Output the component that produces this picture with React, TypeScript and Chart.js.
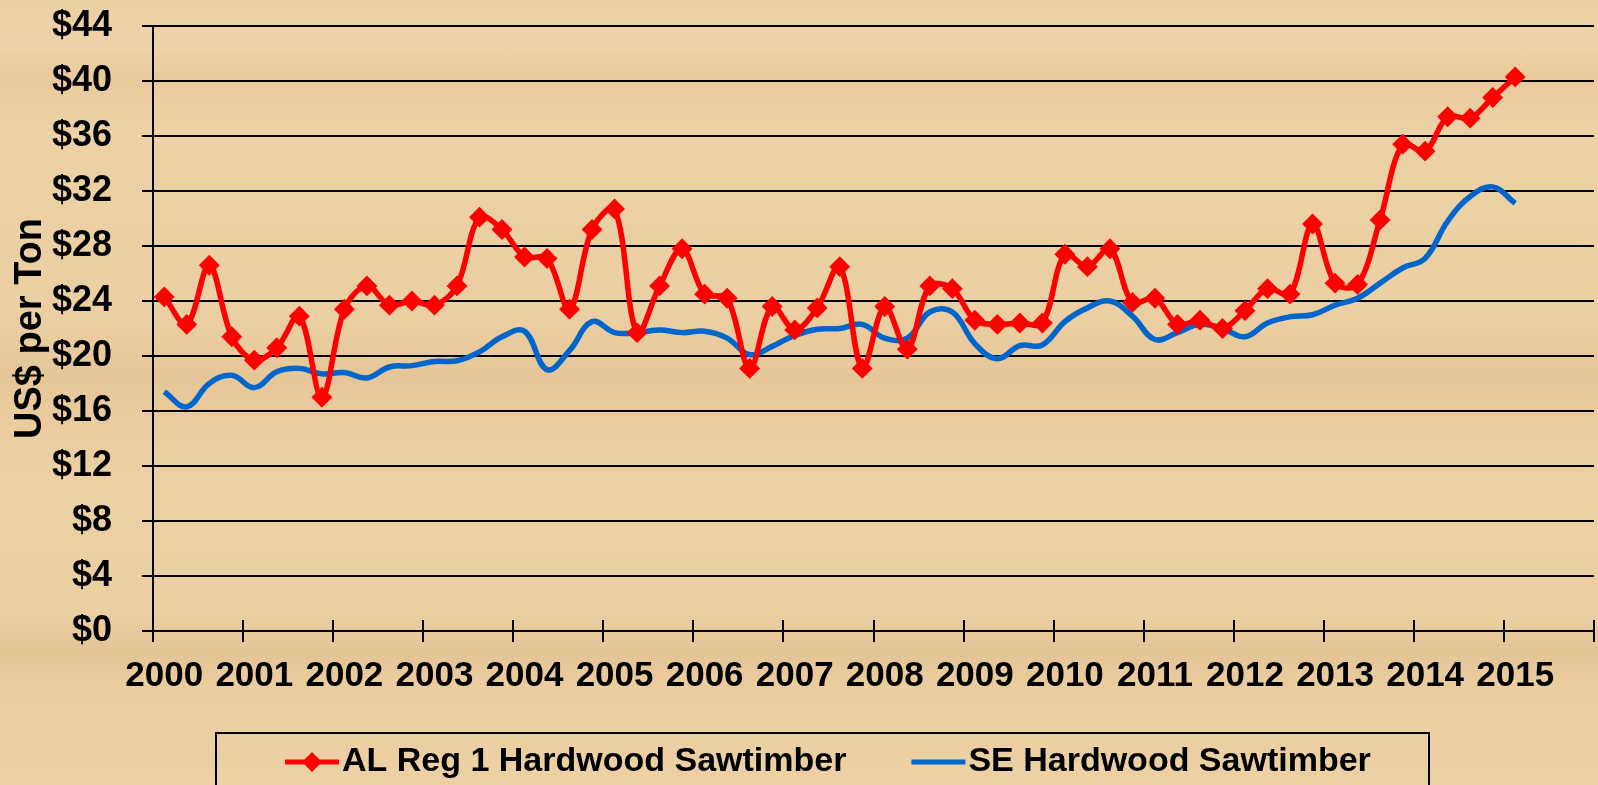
import React, { useEffect, useRef } from 'react';
import { Chart, registerables } from 'chart.js';

Chart.register(...registerables);

// ---- data ----
const years = [2000, 2001, 2002, 2003, 2004, 2005, 2006, 2007, 2008, 2009, 2010, 2011, 2012, 2013, 2014, 2015];
const quarters = ['Q1', 'Q2', 'Q3', 'Q4'];
const quarterLabels = years.flatMap((y) => quarters.map((q) => `${y} ${q}`));

const seriesNames = ['AL Reg 1 Hardwood Sawtimber', 'SE Hardwood Sawtimber'];

const alReg1Hardwood = [
  24.3, 22.3, 26.6, 21.4, 19.7, 20.6, 22.9, 17.0, 23.4, 25.1, 23.7, 24.0, 23.7,
  25.1, 30.1, 29.2, 27.2, 27.1, 23.4, 29.2, 30.7, 21.7, 25.1, 27.8, 24.5, 24.2,
  19.1, 23.6, 21.9, 23.5, 26.5, 19.1, 23.6, 20.5, 25.1, 24.9, 22.6, 22.3, 22.4,
  22.4, 27.4, 26.5, 27.8, 23.9, 24.2, 22.3, 22.6, 22.0, 23.3, 24.9, 24.5,
  29.6, 25.3, 25.2, 29.9, 35.4, 34.9, 37.4, 37.3, 38.8, 40.3,
];

const seHardwood = [
  17.4, 16.3, 18.0, 18.6, 17.7, 18.85, 19.1, 18.7, 18.8, 18.4, 19.2, 19.3, 19.6,
  19.65, 20.3, 21.4, 21.8, 19.0, 20.4, 22.5, 21.7, 21.7, 21.9, 21.7, 21.8, 21.3,
  20.1, 20.7, 21.5, 21.95, 22.0, 22.3, 21.3, 21.3, 23.2, 23.2, 20.9, 19.8, 20.75,
  20.8, 22.5, 23.5, 24.0, 22.9, 21.2, 21.7, 22.3, 22.0, 21.4, 22.4, 22.85,
  23.0, 23.7, 24.2, 25.3, 26.4, 27.1, 29.8, 31.6, 32.3, 31.1,
];

const yMin = 0;
const yMax = 44;
const yStep = 4;

// ---- styles ----
const FONT = '"Liberation Sans", Arial, Helvetica, sans-serif';
const RED = '#FF0000';
const BLUE = '#0066CC';

const xTickMarks = {
  id: 'xTickMarks',
  beforeDatasetsDraw(chart: any) {
    const s = chart.scales.x;
    const { ctx, chartArea } = chart;
    const w = s.getPixelForValue(1) - s.getPixelForValue(0);
    ctx.save();
    ctx.strokeStyle = '#000';
    ctx.lineWidth = 2;
    for (let i = 0; i <= quarterLabels.length; i += 4) {
      const px = Math.round(s.getPixelForValue(i) - w / 2);
      ctx.beginPath();
      ctx.moveTo(px, chartArea.bottom - 11);
      ctx.lineTo(px, chartArea.bottom + 11);
      ctx.stroke();
    }
    ctx.restore();
  },
};

const boxLegend = {
  id: 'boxLegend',
  afterDraw(chart: any) {
    const { ctx } = chart;
    ctx.save();
    ctx.strokeStyle = '#000';
    ctx.lineWidth = 2;
    ctx.strokeRect(216, 733, 1213, 120);
    ctx.font = `bold 34px ${FONT}`;
    ctx.textBaseline = 'middle';
    ctx.textAlign = 'left';
    const y = 762;
    let x = 285;
    chart.data.datasets.forEach((ds: any) => {
      ctx.strokeStyle = ds.borderColor;
      ctx.lineWidth = 5;
      ctx.lineCap = 'butt';
      ctx.beginPath();
      ctx.moveTo(x, y);
      ctx.lineTo(x + 54, y);
      ctx.stroke();
      if (ds.pointRadius > 0) {
        const cx = x + 27;
        const r = 10;
        ctx.fillStyle = ds.pointBackgroundColor;
        ctx.beginPath();
        ctx.moveTo(cx, y - r);
        ctx.lineTo(cx + r, y);
        ctx.lineTo(cx, y + r);
        ctx.lineTo(cx - r, y);
        ctx.closePath();
        ctx.fill();
      }
      ctx.fillStyle = '#000';
      ctx.fillText(ds.label, x + 57, y);
      x += 57 + ctx.measureText(ds.label).width + 65;
    });
    ctx.restore();
  },
};

export default function App() {
  const canvasRef = useRef<HTMLCanvasElement | null>(null);

  useEffect(() => {
    if (!canvasRef.current) return;
    const chart = new Chart(canvasRef.current, {
      type: 'line',
      data: {
        labels: quarterLabels,
        datasets: [
          {
            label: seriesNames[0],
            data: alReg1Hardwood,
            borderColor: RED,
            backgroundColor: RED,
            borderWidth: 5.5,
            tension: 0.35,
            pointStyle: 'rectRot',
            pointRadius: 9,
            pointBackgroundColor: RED,
            pointBorderColor: RED,
            pointBorderWidth: 2,
            fill: false,
            order: 0,
          },
          {
            label: seriesNames[1],
            data: seHardwood,
            borderColor: BLUE,
            backgroundColor: BLUE,
            borderWidth: 5.5,
            tension: 0.4,
            pointRadius: 0,
            fill: false,
            order: 1,
          },
        ],
      },
      options: {
        responsive: false,
        animation: false,
        events: [],
        layout: { autoPadding: false, padding: { top: 26, right: 4, bottom: 89, left: 0 } },
        plugins: {
          legend: { display: false },
          tooltip: { enabled: false },
        },
        scales: {
          x: {
            type: 'category',
            offset: true,
            grid: { display: false },
            border: { display: true, color: '#000', width: 2 },
            ticks: {
              autoSkip: false,
              maxRotation: 0,
              minRotation: 0,
              padding: 16,
              color: '#000',
              font: { family: FONT, size: 35, weight: 'bold' },
              callback: (_v: any, i: number) => (i % 4 === 0 ? String(years[i / 4]) : ''),
            },
            afterFit: (s: any) => {
              s.height = 65;
              s.paddingLeft = 0;
              s.paddingRight = 0;
            },
          },
          y: {
            min: yMin,
            max: yMax,
            ticks: {
              stepSize: yStep,
              padding: 30,
              color: '#000',
              font: { family: FONT, size: 36, weight: 'bold' },
              callback: (v: any) => `$${v}`,
            },
            grid: { color: '#000', lineWidth: 2, tickLength: 11 },
            border: { display: true, color: '#000', width: 2 },
            title: {
              display: true,
              text: 'US$ per Ton',
              color: '#000',
              font: { family: FONT, size: 38, weight: 'bold' },
              padding: { top: 8, bottom: 0 },
            },
            afterFit: (s: any) => {
              s.width = 153;
              s.paddingTop = 0;
              s.paddingBottom = 0;
            },
          },
        },
      },
      plugins: [xTickMarks, boxLegend],
    } as any);
    return () => chart.destroy();
  }, []);

  return (
    <div
      style={{
        position: 'fixed',
        left: 0,
        top: 0,
        width: 1598,
        height: 785,
        overflow: 'hidden',
        background:
          'linear-gradient(180deg, #EBCFA3 0%, #EDD3A8 6%, #E8C99C 10%, #ECD1A5 16%, #EBCFA2 40%, #E6C698 48%, #E9CB9E 53%, #ECD1A5 62%, #EBCFA2 78%, #E4C495 83%, #EACC9F 87%, #ECD1A5 100%)',
      }}
    >
      <canvas ref={canvasRef} width={1598} height={785} style={{ display: 'block' }} />
    </div>
  );
}
